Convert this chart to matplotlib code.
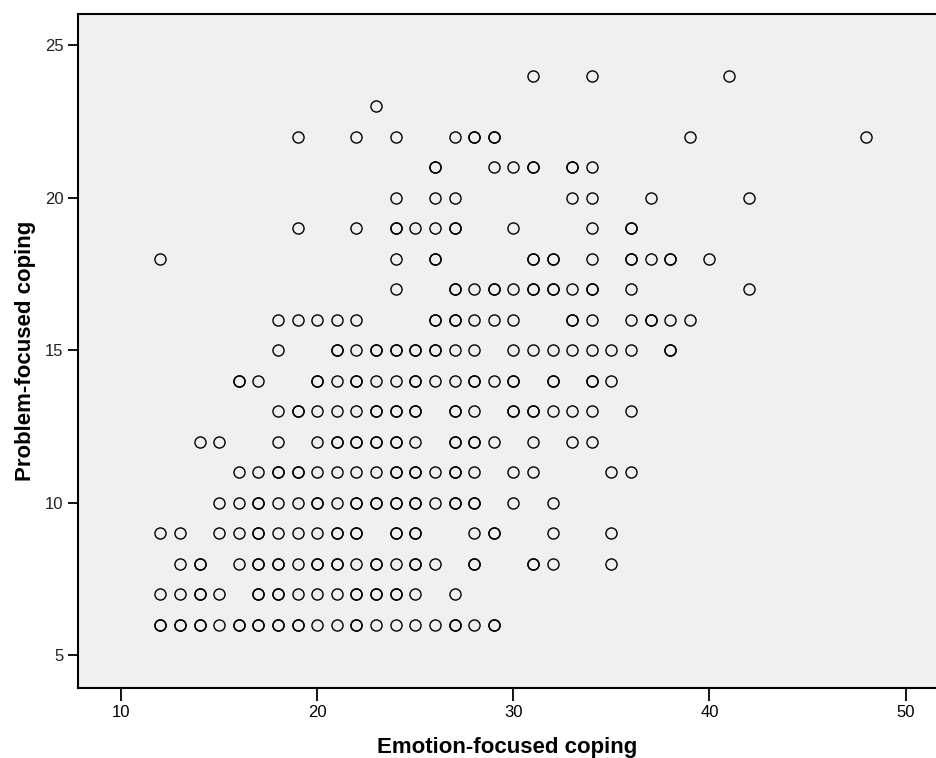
import matplotlib.pyplot as plt

# Problem-focused coping score for each row of points
row_y = [24, 23, 22, 21, 20, 19, 18, 17, 16, 15, 14, 13, 12, 11, 10, 9, 8, 7, 6]

# Emotion-focused coping scores seen in each row
row_x = [
    [31, 34, 41],
    [23],
    [19, 22, 24, 27, 28, 29, 39, 48],
    [26, 29, 30, 31, 33, 34],
    [24, 26, 27, 33, 34, 37, 42],
    [19, 22, 24, 25, 26, 27, 30, 34, 36],
    [12, 24, 26, 31, 32, 34, 36, 37, 38, 40],
    [24, 27, 28, 29, 30, 31, 32, 33, 34, 36, 42],
    [18, 19, 20, 21, 22, 26, 27, 28, 29, 30, 33, 34, 36, 37, 38, 39],
    [18, 21, 22, 23, 24, 25, 26, 27, 28, 30, 31, 32, 33, 34, 35, 36, 38],
    [16, 17, 20, 21, 22, 23, 24, 25, 26, 27, 28, 29, 30, 32, 34, 35],
    [18, 19, 20, 21, 22, 23, 24, 25, 27, 28, 30, 31, 32, 33, 34, 36],
    [14, 15, 18, 20, 21, 22, 23, 24, 25, 27, 28, 29, 31, 33, 34],
    [16, 17, 18, 19, 20, 21, 22, 23, 24, 25, 26, 27, 28, 30, 31, 35, 36],
    [15, 16, 17, 18, 19, 20, 21, 22, 23, 24, 25, 26, 27, 28, 30, 32],
    [12, 13, 15, 16, 17, 18, 19, 20, 21, 22, 24, 25, 28, 29, 32, 35],
    [13, 14, 16, 17, 18, 19, 20, 21, 22, 23, 24, 25, 26, 28, 31, 32, 35],
    [12, 13, 14, 15, 17, 18, 19, 20, 21, 22, 23, 24, 25, 27],
    [12, 13, 14, 15, 16, 17, 18, 19, 20, 21, 22, 23, 24, 25, 26, 27, 28, 29],
]

# cases that share a position with another case (drawn heavier)
dup_x = [28, 29, 26, 31, 33, 24, 27, 36, 26, 31, 32, 36, 38,
         27, 29, 31, 32, 34, 26, 27, 33, 37, 21, 23, 24, 25, 26, 38,
         16, 20, 22, 25, 28, 30, 32, 34, 19, 23, 24, 25, 27, 30, 31,
         21, 22, 23, 24, 27, 28, 18, 19, 24, 25, 27,
         17, 20, 22, 23, 24, 25, 27, 28, 17, 21, 22, 24, 25, 29,
         14, 17, 18, 20, 21, 23, 25, 28, 31, 14, 17, 18, 22, 23, 24,
         12, 13, 14, 16, 17, 18, 19, 22, 27, 29]
dup_y = [22, 22, 21, 21, 21, 19, 19, 19, 18, 18, 18, 18, 18,
         17, 17, 17, 17, 17, 16, 16, 16, 16, 15, 15, 15, 15, 15, 15,
         14, 14, 14, 14, 14, 14, 14, 14, 13, 13, 13, 13, 13, 13, 13,
         12, 12, 12, 12, 12, 12, 11, 11, 11, 11, 11,
         10, 10, 10, 10, 10, 10, 10, 10, 9, 9, 9, 9, 9, 9,
         8, 8, 8, 8, 8, 8, 8, 8, 8, 7, 7, 7, 7, 7, 7,
         6, 6, 6, 6, 6, 6, 6, 6, 6, 6]

x_vals = [x for xs in row_x for x in xs] + dup_x
y_vals = [y for y, xs in zip(row_y, row_x) for _ in xs] + dup_y

fig = plt.figure(figsize=(9.37, 7.58), dpi=100)
ax = fig.add_axes([0.0832, 0.0923, 0.9168, 0.8892])
ax.set_facecolor('#F0F0F0')

ax.plot(x_vals, y_vals, linestyle='none', marker='o', markersize=8,
        markerfacecolor='none', markeredgecolor='black', markeredgewidth=1.0)

ax.set_xlim(7.8, 51.6)
ax.set_ylim(3.92, 26.02)
ax.set_xticks([10, 20, 30, 40, 50])
ax.set_yticks([5, 10, 15, 20, 25])

for side in ['left', 'bottom', 'top']:
    ax.spines[side].set_linewidth(1.5)
    ax.spines[side].set_color('black')
ax.spines['right'].set_visible(False)

ax.tick_params(direction='out', length=7, width=1.3, colors='black')
ax.tick_params(axis='x', length=9)
for lab in ax.get_xticklabels():
    lab.set_family(['Liberation Sans Narrow', 'Liberation Sans'])
    lab.set_fontsize(12)
for lab in ax.get_yticklabels():
    lab.set_family('Liberation Sans')
    lab.set_fontsize(12)
    lab.set_color('#222222')

label_font = dict(family=['Liberation Sans Narrow', 'Liberation Sans'],
                  fontsize=16, fontweight='bold')
ax.set_xlabel('Emotion-focused coping', labelpad=12, **label_font)
ax.set_ylabel('Problem-focused coping', labelpad=6, **label_font)

fig.savefig('out.png', dpi=100, facecolor='white')
